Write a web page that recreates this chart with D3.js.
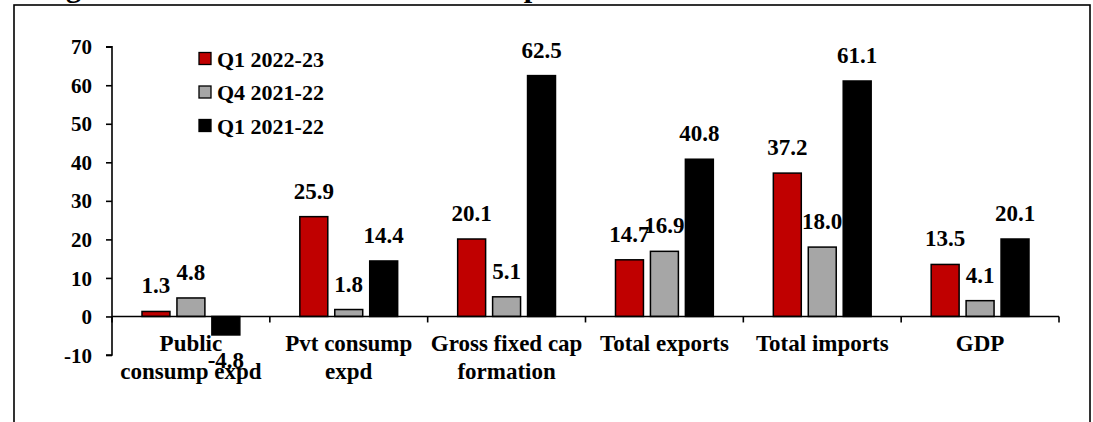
<!DOCTYPE html>
<html>
<head>
<meta charset="utf-8">
<script src="https://cdn.jsdelivr.net/npm/d3@7"></script>
<style>
  html, body { margin: 0; padding: 0; background: #fff; }
  svg { display: block; }
  text { font-family: "Liberation Serif", "Times New Roman", serif; font-weight: bold; fill: #000; }
</style>
</head>
<body>
<svg id="chart" width="1093" height="422"></svg>
<script>
// Growth of demand-side GDP components, per cent
const categories = [
  ["Public", "consump expd"],
  ["Pvt consump", "expd"],
  ["Gross fixed cap", "formation"],
  ["Total exports"],
  ["Total imports"],
  ["GDP"]
];
const seriesNames = ["Q1 2022-23", "Q4 2021-22", "Q1 2021-22"];
const q1_2022_23 = [1.3, 25.9, 20.1, 14.7, 37.2, 13.5];
const q4_2021_22 = [4.8, 1.8, 5.1, 16.9, 18.0, 4.1];
const q1_2021_22 = [-4.8, 14.4, 62.5, 40.8, 61.1, 20.1];
const yTicks = [-10, 0, 10, 20, 30, 40, 50, 60, 70];
const seriesColors = ["#C00000", "#A6A6A6", "#000000"];
const titleText = "Figure 2: Growth in GDP and its components";

const values = [q1_2022_23, q4_2021_22, q1_2021_22];
const svg = d3.select("#chart");

// outer frame
svg.append("rect")
  .attr("x", 14).attr("y", 5)
  .attr("width", 1076).attr("height", 440)
  .attr("fill", "none").attr("stroke", "#000").attr("stroke-width", 1.6);

// title sitting above the frame
const title = svg.append("text")
  .attr("x", 40).attr("y", -3.5)
  .style("font-size", "30px")
  .text(titleText);
{
  const node = title.node();
  const gi = titleText.indexOf("g");
  const pi = titleText.lastIndexOf("p");
  const gx = node.getStartPositionOfChar(gi).x;
  const px = node.getStartPositionOfChar(pi).x;
  const scale = (524 - 66) / (px - gx);
  title.style("font-size", (30 * scale) + "px");
  const gx2 = node.getStartPositionOfChar(gi).x;
  title.attr("x", 40 + (66 - gx2));
}

const plot = { left: 112, right: 1059 };
const y = d3.scaleLinear().domain([-10, 70]).range([355, 46.7]);

const x0 = d3.scaleBand()
  .domain(d3.range(categories.length))
  .range([plot.left, plot.right])
  .paddingInner(0).paddingOuter(0);

const groupInset = 30;
const x1 = d3.scaleBand()
  .domain(d3.range(seriesNames.length))
  .range([groupInset, x0.bandwidth() - groupInset])
  .paddingInner(0.2).paddingOuter(0);

const fmt = v => v.toFixed(1);

// bars
const groups = svg.append("g").selectAll("g")
  .data(categories)
  .join("g")
  .attr("transform", (d, i) => `translate(${x0(i)},0)`);

groups.selectAll("rect")
  .data((d, i) => values.map((s, k) => ({ k, v: s[i] })))
  .join("rect")
  .attr("x", d => x1(d.k))
  .attr("width", x1.bandwidth())
  .attr("y", d => y(Math.max(0, d.v)))
  .attr("height", d => Math.abs(y(d.v) - y(0)))
  .attr("fill", d => seriesColors[d.k])
  .attr("stroke", "#000")
  .attr("stroke-width", 1.5);

// value labels
groups.selectAll("text.val")
  .data((d, i) => values.map((s, k) => ({ k, v: s[i] })))
  .join("text")
  .attr("class", "val")
  .attr("x", d => x1(d.k) + x1.bandwidth() / 2)
  .attr("y", d => d.v >= 0 ? y(d.v) - 18 : y(d.v) + 33)
  .attr("text-anchor", "middle")
  .style("font-size", "23px")
  .text(d => fmt(d.v));

// y axis
const yAxis = d3.axisLeft(y).tickValues(yTicks).tickSize(6).tickPadding(14).tickFormat(d => String(d));
const yg = svg.append("g").attr("transform", `translate(${plot.left},0)`).call(yAxis);
yg.select(".domain").attr("d", `M-6,${y(-10)}H0V${y(70)}H-6`).attr("stroke", "#000").attr("stroke-width", 1.6);
yg.selectAll(".tick line").attr("stroke", "#000").attr("stroke-width", 1.6);
yg.selectAll(".tick text")
  .style("font-size", "21px")
  .style("font-family", "'Liberation Serif', serif")
  .style("font-weight", "bold")
  .attr("fill", "#000")
  .attr("dy", "0.34em");

// x axis at zero with category boundary ticks
const xg = svg.append("g").attr("transform", `translate(0,${y(0)})`);
xg.append("line")
  .attr("x1", plot.left).attr("x2", plot.right)
  .attr("stroke", "#000").attr("stroke-width", 1.6);
xg.selectAll("line.tk")
  .data(d3.range(categories.length + 1))
  .join("line")
  .attr("class", "tk")
  .attr("x1", i => i < categories.length ? x0(i) : plot.right)
  .attr("x2", i => i < categories.length ? x0(i) : plot.right)
  .attr("y1", 0).attr("y2", 6)
  .attr("stroke", "#000").attr("stroke-width", 1.6);

// category labels
const catLabels = svg.append("g").selectAll("text")
  .data(categories)
  .join("text")
  .attr("text-anchor", "middle")
  .style("font-size", "23px");
catLabels.selectAll("tspan")
  .data((d, i) => d.map((line, j) => ({ line, j, i })))
  .join("tspan")
  .attr("x", d => x0(d.i) + x0.bandwidth() / 2)
  .attr("y", d => 351 + d.j * 28)
  .text(d => d.line);

// legend
const legend = svg.append("g").selectAll("g")
  .data(seriesNames)
  .join("g")
  .attr("transform", (d, i) => `translate(199,${59 + i * 33.5})`);
legend.append("rect")
  .attr("x", 0).attr("y", -6.5)
  .attr("width", 12).attr("height", 12)
  .attr("fill", (d, i) => seriesColors[i])
  .attr("stroke", "#000").attr("stroke-width", 1.3);
legend.append("text")
  .attr("x", 18).attr("y", 0).attr("dy", "0.35em")
  .style("font-size", "22px")
  .text(d => d);
</script>
</body>
</html>
